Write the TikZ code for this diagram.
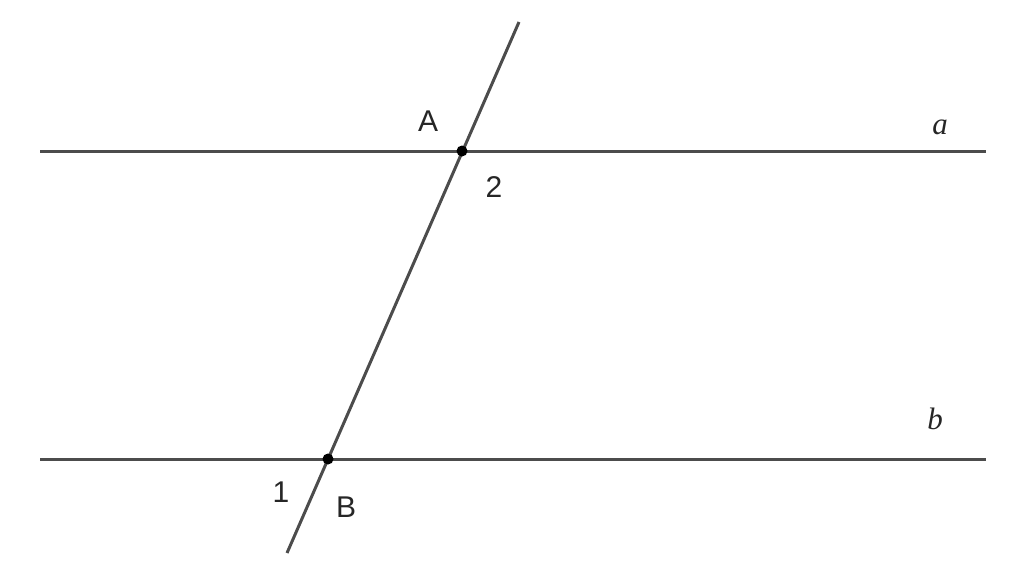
\documentclass[tikz,border=0pt]{standalone}
\usepackage{fontspec}
\newfontfamily\lab{Liberation Sans}
\newfontfamily\serifit{Liberation Serif}
\begin{document}
\begin{tikzpicture}[x=1pt,y=-1pt,
  ln/.style={line width=3pt,draw=black!70},
  pt/.style={circle,fill=black,inner sep=0pt,minimum size=11pt},
  lbl/.style={font=\lab\fontsize{30}{30}\selectfont,text=black!85,inner sep=0pt},
  ital/.style={font=\serifit\fontsize{31}{31}\selectfont\itshape,text=black!85,inner sep=0pt}]
\useasboundingbox (0,0) rectangle (1024,575);
\coordinate (aL) at (40,151);
\coordinate (aR) at (986,151);
\coordinate (bL) at (40,459);
\coordinate (bR) at (986,459);
\coordinate (tT) at (519,22);
\coordinate (tB) at (287,553);
\draw[ln] (aL) -- (aR);
\draw[ln] (bL) -- (bR);
\draw[ln] (tT) -- (tB);
\node[pt] (A) at (462,151) {};
\node[pt] (B) at (328,459) {};
\node[lbl] (lA) at (428,121) {A};
\node[lbl] (l2) at (494,187) {2};
\node[lbl] (l1) at (281,492) {1};
\node[lbl] (lB) at (346,507) {B};
\node[ital] (la) at (940,127) {a};
\node[ital] (lb) at (935,419) {b};
\end{tikzpicture}
\end{document}
